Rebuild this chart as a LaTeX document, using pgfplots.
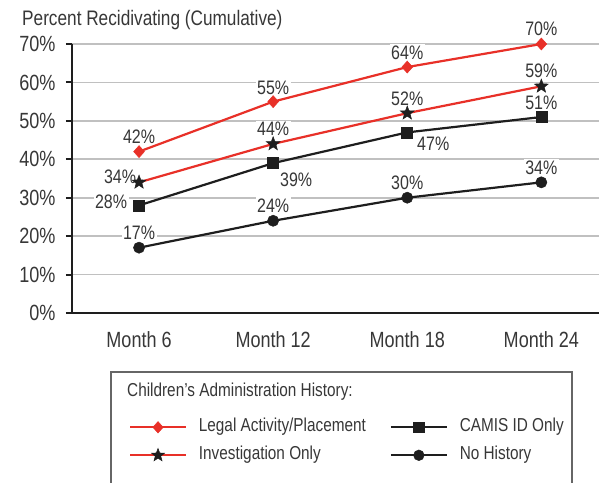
\documentclass[border=0pt]{standalone}
\usepackage{fontspec}
\setmainfont{Liberation Sans}[FakeStretch=0.82]
\usepackage{pgfplots}
\pgfplotsset{compat=1.18}
\definecolor{myred}{RGB}{232,48,40}
\definecolor{txt}{RGB}{55,55,55}
\definecolor{gridc}{RGB}{192,192,192}
\definecolor{lk}{RGB}{30,30,30}
\pgfdeclareplotmark{fstar}{%
\pgfpathmoveto{\pgfpointpolar{90}{\pgfplotmarksize}}%
\pgfpathlineto{\pgfpointpolar{126}{0.42\pgfplotmarksize}}%
\pgfpathlineto{\pgfpointpolar{162}{\pgfplotmarksize}}%
\pgfpathlineto{\pgfpointpolar{198}{0.42\pgfplotmarksize}}%
\pgfpathlineto{\pgfpointpolar{234}{\pgfplotmarksize}}%
\pgfpathlineto{\pgfpointpolar{270}{0.42\pgfplotmarksize}}%
\pgfpathlineto{\pgfpointpolar{306}{\pgfplotmarksize}}%
\pgfpathlineto{\pgfpointpolar{342}{0.42\pgfplotmarksize}}%
\pgfpathlineto{\pgfpointpolar{18}{\pgfplotmarksize}}%
\pgfpathlineto{\pgfpointpolar{54}{0.42\pgfplotmarksize}}%
\pgfpathclose
\pgfusepathqfillstroke}
\begin{document}
\begin{tikzpicture}[x=1pt,y=1pt,
 lbl/.style={fill=white, inner sep=1.5pt, text=txt, font=\fontsize{19.5}{21}\selectfont}]
\useasboundingbox (0,0) rectangle (599,482);
\node[anchor=base west, text=txt, font=\fontsize{21}{24}\selectfont, inner sep=0pt] at (22,456) {Percent Recidivating (Cumulative)};
\begin{axis}[at={(72pt,169pt)}, anchor=south west, scale only axis, width=527pt, height=269pt,
 xmin=-0.5, xmax=3.43, ymin=0, ymax=70,
 axis lines*=left, axis line style={line width=2.4pt, lk},
 xtick={0,1,2,3}, xticklabels={Month 6, Month 12, Month 18, Month 24},
 ytick={0,10,...,70}, yticklabel={\pgfmathprintnumber{\tick}\%},
 /pgf/number format/assume math mode=true,
 tick label style={font=\fontsize{22}{26}\selectfont, text=txt},
 xticklabel style={yshift=-9pt},
 yticklabel style={xshift=-7pt},
 x tick style={draw=none}, y tick style={line width=2pt, lk}, tick align=outside, major tick length=6pt,
 ymajorgrids, grid style={gridc, line width=1.8pt},
 clip=false,
 legend columns=2,
 legend cell align=left,
 legend style={at={(0.108,-0.3925)}, anchor=north west, draw=none, fill=none, inner sep=0pt,
   font=\fontsize{18.7}{21}\selectfont, text=txt, row sep=11pt, column sep=12pt,
   /tikz/column 2/.style={column sep=24pt},
   nodes={inner sep=0pt, text height=13pt, text depth=4pt}},
 legend image code/.code={\draw[mark repeat=2,mark phase=2,#1, line width=1.8pt, /tikz/every mark/.append style={scale=0.95}] plot coordinates {(0pt,0pt) (28pt,0pt) (56pt,0pt)};},
]
% data labels
\node[lbl, yshift=15pt] at (axis cs:0,42) {42\%};
\node[lbl, yshift=14pt] at (axis cs:1,55) {55\%};
\node[lbl, yshift=14.5pt] at (axis cs:2,64) {64\%};
\node[lbl, yshift=15pt] at (axis cs:3,70) {70\%};
\node[lbl, xshift=-19pt, yshift=6pt] at (axis cs:0,34) {34\%};
\node[lbl, yshift=15pt] at (axis cs:1,44) {44\%};
\node[lbl, yshift=14pt] at (axis cs:2,52) {52\%};
\node[lbl, yshift=15pt] at (axis cs:3,59) {59\%};
\node[lbl, xshift=-28pt, yshift=4pt] at (axis cs:0,28) {28\%};
\node[lbl, xshift=23pt, yshift=-17pt] at (axis cs:1,39) {39\%};
\node[lbl, xshift=26pt, yshift=-11.6pt] at (axis cs:2,47) {47\%};
\node[lbl, yshift=14pt] at (axis cs:3,51) {51\%};
\node[lbl, yshift=15pt] at (axis cs:0,17) {17\%};
\node[lbl, yshift=15pt] at (axis cs:1,24) {24\%};
\node[lbl, yshift=15pt] at (axis cs:2,30) {30\%};
\node[lbl, yshift=15pt] at (axis cs:3,34) {34\%};
% series
\addplot[myred, line width=2.2pt, mark=diamond*, mark size=6pt, mark options={fill=myred, draw=myred, line width=0.5pt, xscale=1.2}]
 coordinates {(0,42) (1,55) (2,64) (3,70)};
\addlegendentry{Legal Activity/Placement}
\addplot[lk, line width=2.2pt, mark=square*, mark size=5.5pt, mark options={fill=lk, draw=lk, line width=0.5pt}]
 coordinates {(0,28) (1,39) (2,47) (3,51)};
\addlegendentry{CAMIS ID Only}
\addplot[myred, line width=2.2pt, mark=fstar, mark size=7.2pt, mark options={fill=lk, draw=lk, line width=0.5pt}]
 coordinates {(0,34) (1,44) (2,52) (3,59)};
\addlegendentry{Investigation Only}
\addplot[lk, line width=2.2pt, mark=*, mark size=5.6pt, mark options={fill=lk, draw=lk, line width=0.5pt}]
 coordinates {(0,17) (1,24) (2,30) (3,34)};
\addlegendentry{No History}
\end{axis}
\draw[gray!80!black, line width=1.5pt] (111,-5) |- (572,110) -- (572,-5);
\node[anchor=west, text=txt, font=\fontsize{18.7}{21}\selectfont, inner sep=0pt] at (127,90) {Children's Administration History:};
\end{tikzpicture}
\end{document}
